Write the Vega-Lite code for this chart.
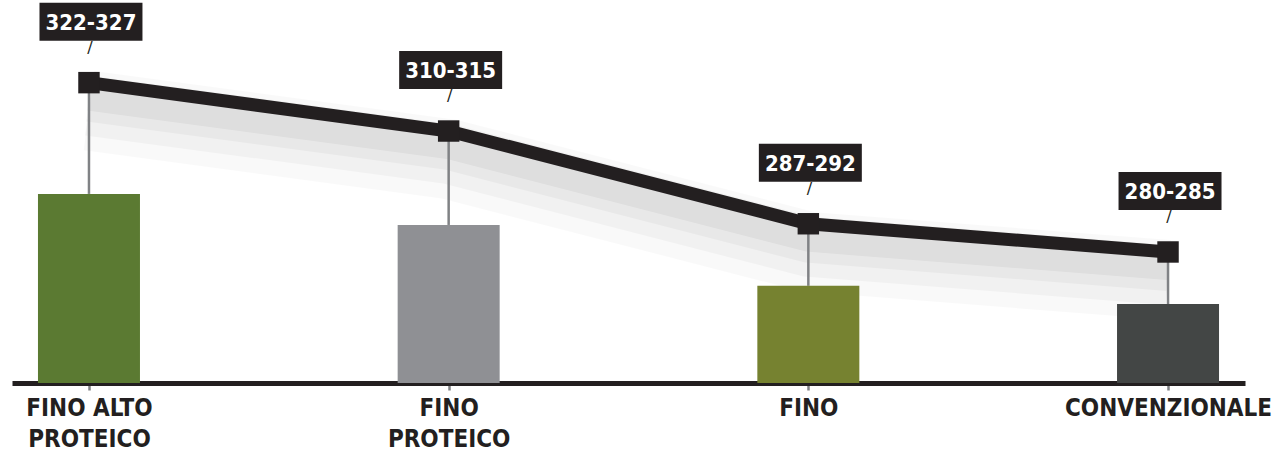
{
  "$schema": "https://vega.github.io/schema/vega-lite/v6.json",
  "autosize": {"type": "none"},
  "padding": {"left": 12, "top": 0, "right": 32, "bottom": 70},
  "width": 1233,
  "height": 383,
  "background": "white",
  "config": {"view": {"stroke": null}},
  "data": {
    "values": [
      {"cat": "FINO ALTO PROTEICO", "label": "322-327", "mid": 324.5, "bar": 296.9},
      {"cat": "FINO PROTEICO", "label": "310-315", "mid": 312.5, "bar": 289.2},
      {"cat": "FINO", "label": "287-292", "mid": 289.5, "bar": 274.1},
      {"cat": "CONVENZIONALE", "label": "280-285", "mid": 282.5, "bar": 269.6}
    ]
  },
  "encoding": {
    "x": {
      "field": "cat",
      "type": "nominal",
      "sort": null,
      "scale": {"type": "point", "padding": 0.214},
      "axis": {
        "title": null,
        "grid": false,
        "labelAngle": 0,
        "domainColor": "#231f20",
        "domainWidth": 5,
        "tickColor": "#808285",
        "tickWidth": 2.5,
        "tickSize": 7,
        "labelPadding": 6,
        "labelFont": "DejaVu Sans Condensed, Roboto Condensed, Liberation Sans Narrow, sans-serif",
        "labelFontWeight": "bold",
        "labelFontSize": 24,
        "labelColor": "#231f20",
        "labelLineHeight": 31,
        "labelBaseline": "top",
        "labelLimit": 0,
        "labelFlush": false,
        "labelOverlap": false,
        "labelBound": false,
        "labelExpr": "datum.value == 'FINO ALTO PROTEICO' ? ['FINO ALTO', 'PROTEICO'] : datum.value == 'FINO PROTEICO' ? ['FINO', 'PROTEICO'] : datum.value"
      }
    }
  },
  "layer": [
    {
      "mark": {"type": "line", "color": "#000000", "strokeWidth": 80, "opacity": 0.025, "yOffset": 28, "strokeCap": "butt"},
      "encoding": {"y": {"field": "mid", "type": "quantitative", "scale": {"domain": [250, 345], "zero": false, "nice": false}, "axis": null}}
    },
    {
      "mark": {"type": "line", "color": "#000000", "strokeWidth": 60, "opacity": 0.03, "yOffset": 23, "strokeCap": "butt"},
      "encoding": {"y": {"field": "mid", "type": "quantitative", "axis": null}}
    },
    {
      "mark": {"type": "line", "color": "#000000", "strokeWidth": 42, "opacity": 0.035, "yOffset": 18, "strokeCap": "butt"},
      "encoding": {"y": {"field": "mid", "type": "quantitative", "axis": null}}
    },
    {
      "mark": {"type": "line", "color": "#000000", "strokeWidth": 28, "opacity": 0.045, "yOffset": 14, "strokeCap": "butt"},
      "encoding": {"y": {"field": "mid", "type": "quantitative", "axis": null}}
    },
    {
      "mark": {"type": "rule", "color": "#808285", "strokeWidth": 2.5},
      "encoding": {
        "y": {"field": "mid", "type": "quantitative", "axis": null},
        "y2": {"field": "bar"}
      }
    },
    {
      "mark": {"type": "bar", "size": 102},
      "encoding": {
        "y": {"field": "bar", "type": "quantitative", "axis": null},
        "y2": {"datum": 250},
        "color": {
          "field": "cat",
          "type": "nominal",
          "legend": null,
          "scale": {
            "domain": ["FINO ALTO PROTEICO", "FINO PROTEICO", "FINO", "CONVENZIONALE"],
            "range": ["#5b7a32", "#8f9094", "#768230", "#434645"]
          }
        }
      }
    },
    {
      "mark": {"type": "line", "color": "#231f20", "strokeWidth": 13},
      "encoding": {"y": {"field": "mid", "type": "quantitative", "axis": null}}
    },
    {
      "mark": {"type": "point", "shape": "square", "filled": true, "color": "#231f20", "size": 460, "opacity": 1},
      "encoding": {"y": {"field": "mid", "type": "quantitative", "axis": null}}
    },
    {
      "mark": {"type": "text", "text": "/", "font": "DejaVu Sans", "fontSize": 16, "color": "#231f20", "yOffset": -35, "xOffset": 1, "baseline": "middle", "align": "center"},
      "encoding": {"y": {"field": "mid", "type": "quantitative", "axis": null}}
    },
    {
      "mark": {"type": "point", "shape": "M -1.355 -0.5 L 1.355 -0.5 L 1.355 0.5 L -1.355 0.5 Z", "filled": true, "color": "#231f20", "size": 5776, "opacity": 1, "yOffset": -61, "xOffset": 2},
      "encoding": {"y": {"field": "mid", "type": "quantitative", "axis": null}}
    },
    {
      "mark": {"type": "text", "font": "DejaVu Sans Condensed, Roboto Condensed, Liberation Sans Narrow, sans-serif", "fontWeight": "bold", "fontSize": 22, "color": "#ffffff", "yOffset": -60, "xOffset": 2, "baseline": "middle", "align": "center"},
      "encoding": {
        "y": {"field": "mid", "type": "quantitative", "axis": null},
        "text": {"field": "label"}
      }
    }
  ]
}
